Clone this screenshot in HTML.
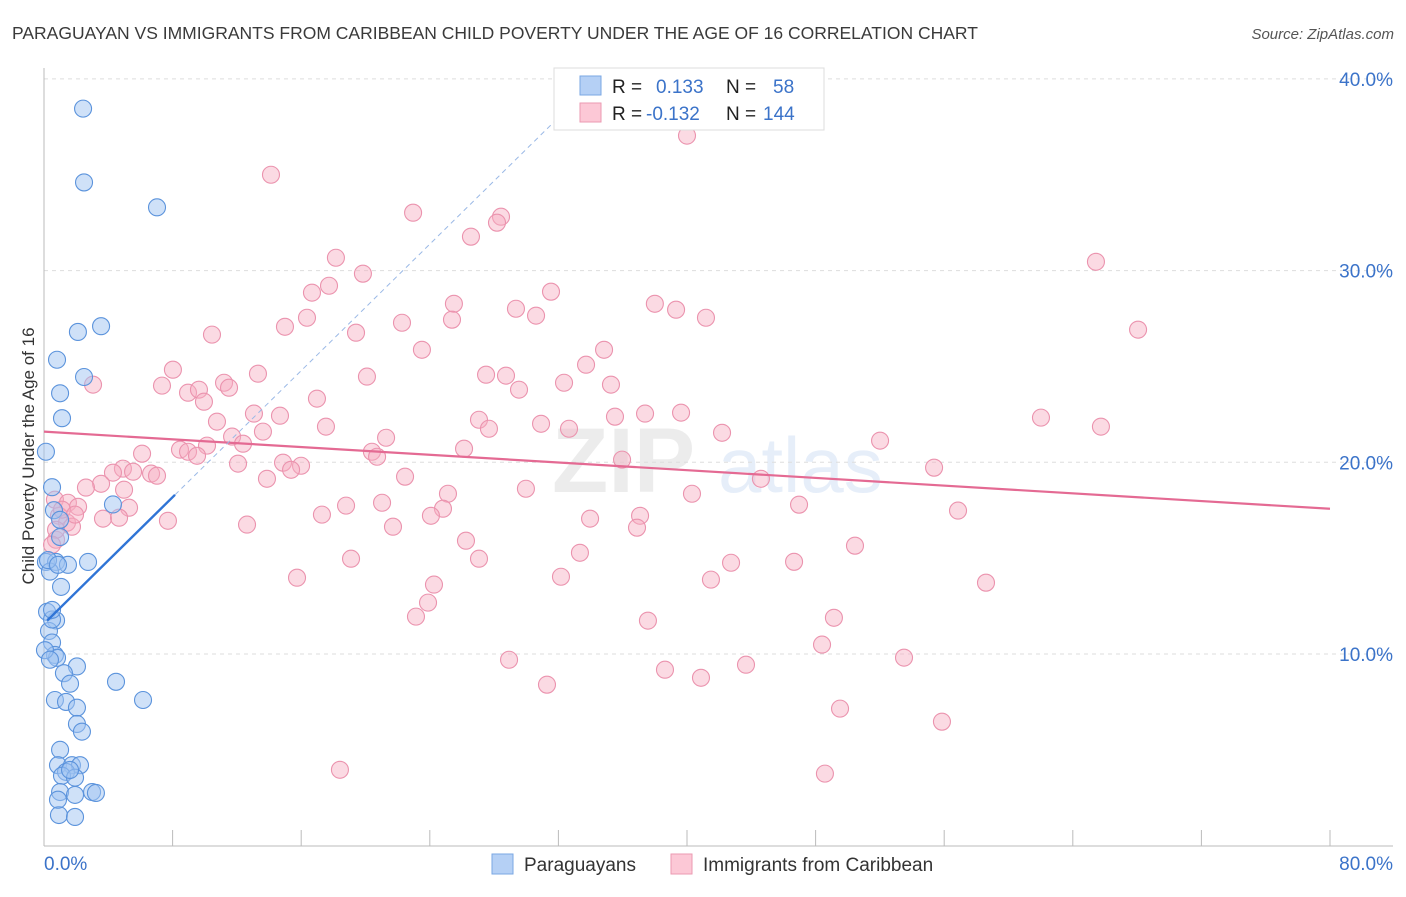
<!DOCTYPE html>
<html><head><meta charset="utf-8">
<style>
body{margin:0;background:#fff;font-family:"Liberation Sans",sans-serif;}
svg text{font-family:"Liberation Sans",sans-serif;}
</style></head>
<body>
<svg id="chart" width="1406" height="892" viewBox="0 0 1406 892" xmlns="http://www.w3.org/2000/svg">
<text x="12" y="39" font-size="17.5" fill="#3a3a3a">PARAGUAYAN VS IMMIGRANTS FROM CARIBBEAN CHILD POVERTY UNDER THE AGE OF 16 CORRELATION CHART</text>
<text x="1394" y="39" font-size="15" fill="#555" text-anchor="end" font-style="italic">Source: ZipAtlas.com</text>
<g opacity="0.13">
<text x="552" y="492" font-size="92" fill="#777" font-family="Liberation Serif" font-weight="bold">ZIP</text>
<text x="718" y="492" font-size="78" fill="#4a86d8">atlas</text>
</g>
<g id="grid"></g>
<g id="axes"></g>
<g id="pinkPts"></g>
<g id="bluePts"></g>
<g id="lines"></g>
<text transform="translate(34,456) rotate(-90)" font-size="17" fill="#333" text-anchor="middle">Child Poverty Under the Age of 16</text>
<g>
<rect x="554" y="68" width="270" height="62" fill="#fff" stroke="#ddd"/>
<rect x="580" y="76" width="21" height="19" fill="#b5d0f5" stroke="#7aa7e3"/>
<rect x="580" y="103" width="21" height="19" fill="#fcc8d6" stroke="#eb9ab2"/>
<text x="612" y="93" font-size="19" fill="#222">R =</text>
<text x="656" y="93" font-size="19" fill="#3b73c9">0.133</text>
<text x="726" y="93" font-size="19" fill="#222">N =</text>
<text x="773" y="93" font-size="19" fill="#3b73c9">58</text>
<text x="612" y="120" font-size="19" fill="#222">R =</text>
<text x="646" y="120" font-size="19" fill="#3b73c9">-0.132</text>
<text x="726" y="120" font-size="19" fill="#222">N =</text>
<text x="763" y="120" font-size="19" fill="#3b73c9">144</text>
</g>
<g>
<rect x="492" y="854" width="21" height="20" fill="#b5d0f5" stroke="#7aa7e3"/>
<text x="524" y="871" font-size="19" fill="#333">Paraguayans</text>
<rect x="671" y="854" width="21" height="20" fill="#fcc8d6" stroke="#eb9ab2"/>
<text x="703" y="871" font-size="19" fill="#333">Immigrants from Caribbean</text>
</g>
</svg>
<script>
const yTicks=[10,20,30,40];
const yTickLabels=["10.0%","20.0%","30.0%","40.0%"];
const xTicks=[8,16,24,32,40,48,56,64,72,80];
const xEndLabels=["0.0%","80.0%"];
const blueX=[2.43,2.49,7.03,2.11,3.55,0.81,2.49,1.0,1.12,0.12,0.5,0.62,1.0,0.12,0.75,1.49,2.74,0.37,1.06,0.19,0.75,0.31,0.5,0.68,0.81,2.05,1.24,1.62,4.48,6.16,0.68,1.37,2.05,2.05,2.36,1.0,0.87,1.74,2.24,1.37,1.12,1.93,1.0,1.93,2.99,3.23,0.93,1.93,4.29,0.5,0.06,1.62,0.87,0.5,0.37,1.0,0.25,0.87];
const blueY=[38.45,34.6,33.3,26.8,27.1,25.35,24.45,23.6,22.3,20.55,18.7,17.5,16.1,14.8,14.8,14.65,14.8,14.3,13.5,12.2,11.75,11.2,10.6,9.95,9.8,9.35,9.0,8.45,8.55,7.6,7.6,7.5,7.2,6.35,5.95,5.0,4.2,4.2,4.2,3.85,3.65,3.55,2.8,2.65,2.8,2.75,1.6,1.5,17.8,11.8,10.2,3.95,2.4,12.3,9.7,17.0,14.9,14.65];
const pinkX=[40.0,14.12,22.96,28.43,28.18,26.56,65.44,18.16,19.84,17.73,16.67,31.54,25.5,38.0,29.36,39.32,30.61,16.36,25.38,41.18,14.99,10.45,19.41,22.27,68.06,23.51,34.84,33.72,8.02,13.31,20.09,27.5,28.74,3.05,7.34,11.2,32.35,35.27,29.55,8.96,9.64,11.51,16.98,9.95,13.06,14.68,37.39,39.63,62.02,27.06,35.52,10.76,30.92,32.66,27.68,17.54,65.75,13.62,11.7,42.18,21.28,12.38,52.01,6.1,8.46,8.96,10.14,20.4,26.13,9.52,20.72,14.87,15.99,35.96,4.91,12.07,15.37,4.29,5.54,6.66,7.03,13.87,22.46,55.37,44.6,3.55,2.61,4.98,29.98,40.31,25.13,46.97,0.68,1.49,2.12,5.29,21.03,18.79,24.82,56.86,0.93,3.67,4.67,17.29,24.07,37.08,33.97,1.43,1.74,12.63,7.71,21.71,36.89,0.75,26.25,50.45,33.34,19.1,27.06,42.74,46.66,15.74,32.16,41.49,24.26,58.6,23.89,23.14,49.14,37.57,48.4,28.93,53.5,43.67,38.63,40.87,31.29,49.52,55.86,18.41,48.58,0.75,1.12,1.93,0.5];
const pinkY=[37.04,35.0,33.02,32.81,32.5,31.77,30.46,30.67,29.84,29.21,28.85,28.9,28.27,28.27,28.01,27.96,27.65,27.54,27.44,27.54,27.07,26.66,26.76,27.28,26.92,25.87,25.87,25.09,24.83,24.62,24.47,24.57,24.52,24.05,24.0,24.15,24.15,24.05,23.79,23.63,23.79,23.89,23.32,23.16,22.54,22.43,22.54,22.59,22.33,22.22,22.38,22.12,22.01,21.75,21.75,21.86,21.86,21.6,21.34,21.54,21.28,20.97,21.13,20.45,20.66,20.55,20.87,20.55,20.71,20.34,20.29,19.98,19.82,20.14,19.67,19.93,19.61,19.46,19.51,19.41,19.3,19.14,19.25,19.72,19.14,18.88,18.68,18.57,18.62,18.36,18.36,17.79,18.05,17.89,17.68,17.63,17.89,17.74,17.58,17.48,17.21,17.06,17.11,17.27,17.21,17.21,17.06,16.85,16.64,16.75,16.95,16.64,16.59,15.96,15.91,15.65,15.28,14.97,14.97,14.76,14.81,13.98,14.03,13.88,13.62,13.72,12.68,11.95,11.89,11.74,10.49,9.7,9.81,9.44,9.18,8.76,8.4,7.15,6.47,3.96,3.76,16.48,17.53,17.27,15.7];
const blueFit=[11.58,0.825];
const blueSolidEnd=[8.15];
const blueDashEnd=[31.8];
const pinkFit=[21.6,-0.0503];

const NS="http://www.w3.org/2000/svg";
const X0=44,X1=1330,Y0=845.7,PXPCT=19.17;
function sx(v){return X0+(v/80)*(X1-X0);}
function sy(v){return Y0-v*PXPCT;}
function mk(tag,attrs,parent){const e=document.createElementNS(NS,tag);for(const k in attrs)e.setAttribute(k,attrs[k]);parent.appendChild(e);return e;}
const grid=document.getElementById('grid'),axes=document.getElementById('axes');
yTicks.forEach((t,i)=>{
 const l=mk('line',{x1:X0,x2:1393,y1:sy(t),y2:sy(t),stroke:'#ddd','stroke-dasharray':'4,4'},grid);
 
 
 const tx=mk('text',{x:1393,y:sy(t)+7,'font-size':19,fill:'#3b73c9','text-anchor':'end'},axes);
 tx.textContent=yTickLabels[i];
 
 
});
mk('line',{x1:X0,x2:X0,y1:68,y2:846,stroke:'#bbb'},axes);
mk('line',{x1:X0,x2:1393,y1:846,y2:846,stroke:'#bbb'},axes);
xTicks.forEach(t=>{
 const l=mk('line',{x1:sx(t),x2:sx(t),y1:830,y2:846,stroke:'#bbb'},axes);
 
 
});
const xl0=mk('text',{x:44,y:870,'font-size':19,fill:'#3b73c9'},axes);xl0.textContent=xEndLabels[0];


const xl1=mk('text',{x:1393,y:870,'font-size':19,fill:'#3b73c9','text-anchor':'end'},axes);xl1.textContent=xEndLabels[1];


const pg=document.getElementById('pinkPts');
pinkX.forEach((v,i)=>{
 const c=mk('circle',{cx:sx(v),cy:sy(pinkY[i]),r:8.5,fill:'rgba(246,172,194,0.45)',stroke:'#eb93ae','stroke-width':1.1},pg);
 
 
});
const bg=document.getElementById('bluePts');
blueX.forEach((v,i)=>{
 const c=mk('circle',{cx:sx(v),cy:sy(blueY[i]),r:8.5,fill:'rgba(160,196,242,0.5)',stroke:'#5b93dc','stroke-width':1.1},bg);
 
 
});
const lg=document.getElementById('lines');
const pl=mk('line',{x1:sx(0),y1:sy(pinkFit[0]),x2:sx(80),y2:sy(pinkFit[0]+pinkFit[1]*80),stroke:'#e46a93','stroke-width':2.2},lg);


const bx0=0.2;
const bl=mk('line',{x1:sx(bx0),y1:sy(blueFit[0]+blueFit[1]*bx0),x2:sx(blueSolidEnd[0]),y2:sy(blueFit[0]+blueFit[1]*blueSolidEnd[0]),stroke:'#2f74d6','stroke-width':2.4},lg);


const bd=mk('line',{x1:sx(blueSolidEnd[0]),y1:sy(blueFit[0]+blueFit[1]*blueSolidEnd[0]),x2:sx(blueDashEnd[0]),y2:sy(blueFit[0]+blueFit[1]*blueDashEnd[0]),stroke:'#9bb9e6','stroke-width':1,'stroke-dasharray':'5,4'},lg);


</script>
</body></html>
